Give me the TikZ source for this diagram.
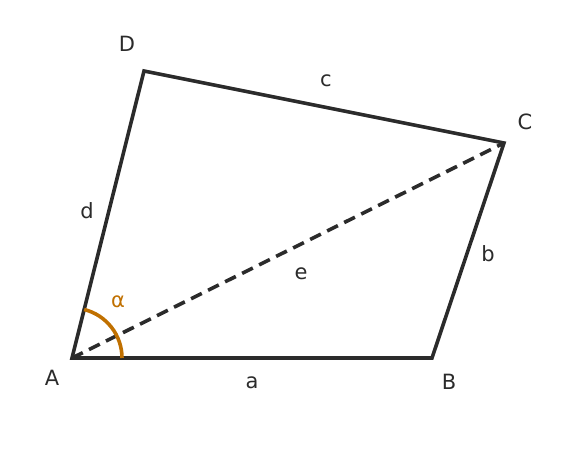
\documentclass[tikz,border=0pt]{standalone}
\usepackage{fontspec}
\setmainfont{DejaVu Sans}
\usetikzlibrary{calc, positioning}
\definecolor{edgegray}{HTML}{2B2B2B}
\definecolor{anglecol}{HTML}{C07000}
\tikzset{
  side/.style={line width=3.6pt, draw=edgegray},
  diag/.style={side, dash pattern=on 12pt off 7pt},
  lbl/.style={text=edgegray, font=\fontsize{21}{25}\selectfont, inner sep=0pt},
}

\begin{document}
\begin{tikzpicture}[x=1pt, y=1pt]
\useasboundingbox (0,0) rectangle (576,466);

\coordinate (A) at (72,108);
\coordinate (B) at (432,108);
\coordinate (C) at (504,323);
\coordinate (D) at (144,395);

\draw [diag] (A) -- (C);
\draw [side, line join=miter] (A) -- (B) -- (C) -- (D) -- cycle;

\draw [line width=3.6pt, draw=anglecol] ($(A)+(50,0)$) arc (0:75.9:50);

\node [lbl] (lA) at (52,88) {A};
\node [lbl] (lB) at (449,84) {B};
\node [lbl] (lC) at (525,344) {C};
\node [lbl] (lD) at (127,422) {D};
\node [lbl] (la) at (252,83) {a};
\node [lbl] (lb) at (488,212) {b};
\node [lbl] (lc) at (326,385) {c};
\node [lbl] (ld) at (87,255) {d};
\node [lbl] (le) at (301,192) {e};
\node [lbl, text=anglecol] (lalpha) at (118,164) {α};
\end{tikzpicture}
\end{document}
